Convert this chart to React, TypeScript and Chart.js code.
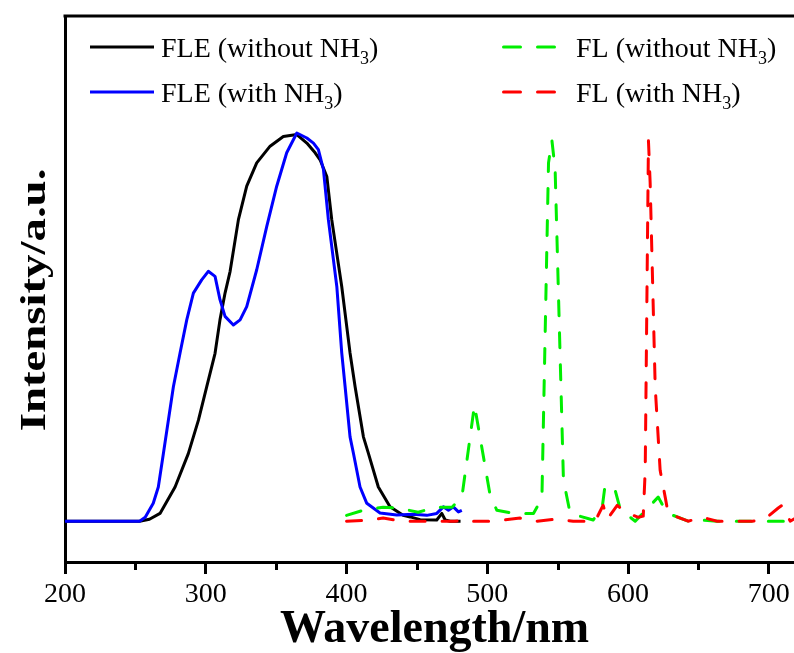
import React, { useEffect, useRef } from 'react';
import { Chart, registerables } from 'chart.js';

Chart.register(...registerables);

const SERIF = "'Liberation Serif', 'Times New Roman', Times, serif";

// ---- data ----
const xTickValues = [200, 300, 400, 500, 600, 700];
const xMinorTickValues = [250, 350, 450, 550, 650, 750];

const seriesLabels = ['FLE (without NH₃)', 'FLE (with NH₃)', 'FL (without NH₃)', 'FL (with NH₃)'];

const fleWithoutX = [200, 253, 260, 267.5, 278.2, 287.6, 294.8, 300.7, 306.6, 310.1, 313.7, 317.3, 323.2, 329.1, 336.2, 345.7, 355.1, 364.7, 371.8, 377.7, 381.2, 386.0, 389.5, 396.6, 402.5, 406.1, 412.0, 415.5, 422.6, 430.9, 440.2, 445.2, 452.3, 464.1, 467.7, 470.1, 473.6, 481];
const fleWithoutY = [0, 0, 0.005, 0.02, 0.088, 0.174, 0.26, 0.346, 0.432, 0.518, 0.587, 0.643, 0.776, 0.862, 0.922, 0.965, 0.99, 0.995, 0.973, 0.948, 0.93, 0.887, 0.776, 0.604, 0.433, 0.346, 0.217, 0.175, 0.088, 0.037, 0.015, 0.011, 0.004, 0.003, 0.02, 0.003, 0, 0];

const fleWithX = [200, 253, 257, 262.7, 266.3, 269.9, 277.0, 281.7, 286.5, 291.2, 297.1, 301.8, 306.6, 310.1, 313.7, 319.6, 324.4, 329.1, 336.2, 343.3, 350.4, 357.5, 364.7, 371.8, 376.5, 380.0, 383.6, 387.1, 393.1, 396.6, 399.0, 402.5, 404.9, 409.6, 414.4, 423.8, 435.7, 447.5, 457.0, 464.1, 468.8, 472.4, 475.9, 479.5, 481.9];
const fleWithY = [0, 0, 0.01, 0.046, 0.088, 0.174, 0.346, 0.432, 0.518, 0.587, 0.621, 0.643, 0.63, 0.57, 0.527, 0.505, 0.518, 0.552, 0.647, 0.758, 0.862, 0.948, 0.999, 0.986, 0.973, 0.956, 0.905, 0.776, 0.604, 0.433, 0.346, 0.217, 0.175, 0.088, 0.046, 0.021, 0.016, 0.018, 0.015, 0.02, 0.037, 0.028, 0.037, 0.024, 0.028];

const flWithoutX = [400, 411.8, 426, 438, 450.9, 463, 475, 482, 490.9, 502.0, 506.8, 518.6, 532.8, 538.8, 543.5, 545.9, 548.2, 554.1, 558.9, 575.2, 581.6, 583.7, 590.8, 594.5, 605.1, 621.4, 627.8, 642.7, 651.3, 663.3, 690, 720];
const flWithoutY = [0.015, 0.028, 0.036, 0.033, 0.023, 0.036, 0.036, 0.063, 0.299, 0.067, 0.028, 0.02, 0.02, 0.058, 0.922, 0.98, 0.905, 0.106, 0.02, 0.003, 0.034, 0.093, 0.08, 0.03, 0, 0.062, 0.021, 0, 0.003, 0, 0, 0];

const flWithX = [400, 413.2, 426, 439.5, 450.9, 463, 477.1, 486.4, 490, 502, 511, 523.3, 535.4, 548.2, 561, 576.6, 582.3, 585.2, 592.3, 598, 607.3, 610.8, 612.2, 614.5, 615.7, 619.3, 622.8, 626.4, 628.5, 642.7, 652.7, 663.3, 676, 688.2, 694.6, 699.6, 706.7, 709.5, 715.2, 720];
const flWithY = [0, 0.002, 0.008, 0, 0, 0, 0, 0.005, 0, 0, 0.003, 0.008, 0, 0.005, 0, 0, 0.041, 0.005, 0.041, 0.023, 0.01, 0.013, 0.131, 0.979, 0.871, 0.345, 0.131, 0.062, 0.02, 0, 0.01, 0, 0, 0, 0.003, 0.013, 0.034, 0.041, 0, 0.01];

const toPoints = (xs: number[], ys: number[]) => xs.map((x, i) => ({ x, y: ys[i] }));

const DASH = [15, 17];

const framePlugin = {
  id: 'frame',
  afterDraw(chart: any) {
    const { ctx, chartArea } = chart;
    ctx.save();
    ctx.strokeStyle = '#000';
    ctx.lineWidth = 3;
    ctx.beginPath();
    ctx.moveTo(chartArea.left - 1.5, chartArea.top);
    ctx.lineTo(chartArea.right, chartArea.top);
    ctx.lineTo(chartArea.right, chartArea.bottom);
    ctx.stroke();
    // minor ticks
    const xs = chart.scales.x;
    ctx.lineWidth = 3;
    ctx.beginPath();
    xMinorTickValues.forEach((v) => {
      const px = Math.round(xs.getPixelForValue(v)) + 0.5;
      ctx.moveTo(px, chartArea.bottom);
      ctx.lineTo(px, chartArea.bottom + 8);
    });
    ctx.stroke();
    ctx.restore();
  },
};

const yTitlePlugin = {
  id: 'ytitle',
  afterDraw(chart: any) {
    const { ctx } = chart;
    ctx.save();
    ctx.translate(45, 300);
    ctx.rotate(-Math.PI / 2);
    ctx.scale(1.3, 1);
    ctx.font = `bold 36px ${SERIF}`;
    ctx.fillStyle = '#000';
    ctx.textAlign = 'center';
    ctx.textBaseline = 'alphabetic';
    ctx.fillText('Intensity/a.u.', 0, 0);
    ctx.restore();
  },
};

// legend layout (positions only)
const legendSlots = [
  { x1: 90, x2: 154, y: 47, tx: 161, ty: 57 },
  { x1: 90, x2: 154, y: 92, tx: 161, ty: 102 },
  { x1: 502, x2: 556, y: 47, tx: 576, ty: 57 },
  { x1: 502, x2: 556, y: 92, tx: 576, ty: 102 },
];

const legendPlugin = {
  id: 'customLegend',
  afterDraw(chart: any) {
    const { ctx } = chart;
    const order = [3, 2, 1, 0]; // dataset index for slot (datasets stored red, green, blue, black)
    ctx.save();
    legendSlots.forEach((slot, i) => {
      const ds = chart.data.datasets[order[i]];
      ctx.strokeStyle = ds.borderColor;
      ctx.lineWidth = 3;
      ctx.lineCap = ds.borderDash ? 'round' : 'butt';
      ctx.setLineDash(ds.borderDash ? [17, 17] : []);
      ctx.beginPath();
      ctx.moveTo(slot.x1 + (ds.borderDash ? 1.5 : 0), slot.y);
      ctx.lineTo(slot.x2, slot.y);
      ctx.stroke();
      ctx.setLineDash([]);
      const [main, rest] = String(ds.label).split('₃');
      ctx.fillStyle = '#000';
      ctx.textAlign = 'left';
      ctx.textBaseline = 'alphabetic';
      ctx.font = `28px ${SERIF}`;
      let x = slot.tx;
      ctx.fillText(main, x, slot.ty);
      x += ctx.measureText(main).width;
      ctx.font = `18px ${SERIF}`;
      ctx.fillText('3', x, slot.ty + 7);
      x += ctx.measureText('3').width;
      ctx.font = `28px ${SERIF}`;
      ctx.fillText(rest, x, slot.ty);
    });
    ctx.restore();
  },
};

export default function App() {
  const ref = useRef<HTMLCanvasElement>(null);
  useEffect(() => {
    const canvas = ref.current;
    if (!canvas) return;
    const chart = new Chart(canvas, {
      type: 'line',
      data: {
        datasets: [
          { label: seriesLabels[3], data: toPoints(flWithX, flWithY), borderColor: '#ff0000', borderDash: DASH, borderCapStyle: 'round' },
          { label: seriesLabels[2], data: toPoints(flWithoutX, flWithoutY), borderColor: '#00ee00', borderDash: DASH, borderCapStyle: 'round' },
          { label: seriesLabels[1], data: toPoints(fleWithX, fleWithY), borderColor: '#0000ff' },
          { label: seriesLabels[0], data: toPoints(fleWithoutX, fleWithoutY), borderColor: '#000000' },
        ].map((d) => ({ ...d, borderWidth: 3, pointRadius: 0, tension: 0, fill: false, borderJoinStyle: 'round' })) as any,
      },
      options: {
        responsive: false,
        animation: false,
        devicePixelRatio: 1,
        parsing: true,
        layout: { padding: { top: 16, right: 6, left: 0, bottom: 0 } },
        plugins: { legend: { display: false }, tooltip: { enabled: false }, title: { display: false } },
        scales: {
          x: {
            type: 'linear',
            min: 200,
            max: 725,
            afterBuildTicks: (s: any) => { s.ticks = xTickValues.map((v) => ({ value: v })); },
            afterFit: (s: any) => { s.height = 91; },
            grid: { display: true, drawOnChartArea: false, drawTicks: true, tickLength: 12, tickWidth: 3, tickColor: '#000' },
            border: { display: true, color: '#000', width: 3 },
            ticks: { color: '#000', font: { family: SERIF, size: 28 }, padding: 4, maxRotation: 0, autoSkip: false },
            title: { display: true, text: 'Wavelength/nm', color: '#000', font: { family: SERIF, size: 46, weight: 'bold', lineHeight: 1 }, padding: { top: 0, bottom: 0 } },
          },
          y: {
            type: 'linear',
            min: -0.105,
            max: 1.3,
            afterFit: (s: any) => { s.width = 65; },
            ticks: { display: false },
            grid: { display: false },
            border: { display: true, color: '#000', width: 3 },
          },
        },
      } as any,
      plugins: [framePlugin, legendPlugin, yTitlePlugin],
    });
    return () => chart.destroy();
  }, []);
  return (
    <div style={{ position: 'absolute', left: 0, top: 0, width: 794, height: 653, overflow: 'hidden', background: '#fff' }}>
      <canvas ref={ref} width={810} height={653} style={{ display: 'block' }} />
    </div>
  );
}
